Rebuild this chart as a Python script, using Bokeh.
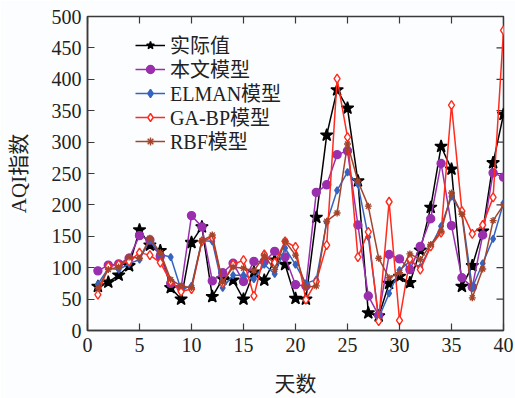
import math
from bokeh.plotting import figure
from bokeh.models import Range1d, FixedTicker, Legend, LegendItem
from bokeh.embed import file_html
from bokeh.resources import INLINE

days = list(range(1, 41))
actual = [70, 77, 88, 103, 160, 136, 127, 68, 50, 140, 165, 54, 82, 80, 50, 93, 80, 112, 105, 51,
          50, 180, 311, 383, 354, 238, 28, 23, 75, 86, 76, 128, 196, 293, 257, 70, 103, 158, 267, 344]
ours = [95, 104, 106, 115, 151, 144, 118, 75, 68, 183, 165, 79, 92, 107, 78, 110, 110, 126, 117, 73,
        71, 220, 232, 280, 286, 168, 55, 24, 121, 114, 97, 134, 178, 266, 167, 84, 69, 152, 251, 244]
elman = [74, 99, 97, 106, 113, 144, 121, 117, 65, 71, 143, 142, 68, 88, 88, 82, 105, 90, 131, 105,
         75, 81, 172, 223, 252, 233, 149, 20, 59, 96, 110, 101, 134, 166, 213, 187, 68, 107, 146, 203]
gabp = [57, 102, 105, 110, 124, 120, 108, 78, 62, 66, 142, 148, 75, 105, 112, 55, 121, 108, 142, 133,
        49, 78, 136, 401, 308, 117, 157, 15, 205, 16, 114, 97, 134, 156, 359, 190, 154, 168, 212, 478]
rbf = [68, 97, 101, 117, 115, 147, 124, 81, 71, 68, 143, 152, 77, 101, 99, 95, 119, 97, 142, 120,
       69, 71, 174, 187, 297, 238, 198, 115, 84, 92, 122, 113, 137, 158, 219, 185, 52, 98, 175, 200]

series_names = ["实际值", "本文模型", "ELMAN模型", "GA-BP模型", "RBF模型"]
x_ticks = [0, 5, 10, 15, 20, 25, 30, 35, 40]
y_ticks = [0, 50, 100, 150, 200, 250, 300, 350, 400, 450, 500]
x_max, y_max = 40, 500

FONT = "Liberation Serif, Noto Sans CJK SC"
BG = "#fcfdff"
AX = "#3a3a3a"

p = figure(width=515, height=398, output_backend="svg", toolbar_location=None,
           x_range=Range1d(0, x_max), y_range=Range1d(0, y_max),
           min_border_left=87, min_border_right=12, min_border_top=16, min_border_bottom=67,
           x_axis_label="天数", y_axis_label="AQI指数")
p.background_fill_color = BG
p.border_fill_color = BG
p.grid.visible = False
p.outline_line_color = AX
p.outline_line_width = 1.5

for ax, ticks in ((p.xaxis[0], x_ticks), (p.yaxis[0], y_ticks)):
    ax.ticker = FixedTicker(ticks=ticks)
    ax.major_tick_in = 7
    ax.major_tick_out = 0
    ax.minor_tick_line_color = None
    ax.axis_line_color = AX
    ax.axis_line_width = 1.5
    ax.major_tick_line_color = AX
    ax.major_tick_line_width = 1.2
    ax.major_label_text_font = FONT
    ax.major_label_text_font_size = "20px"
    ax.major_label_text_color = "#222222"
    ax.axis_label_text_font = FONT
    ax.axis_label_text_font_size = "21px"
    ax.axis_label_text_font_style = "normal"
    ax.axis_label_text_color = "#222222"
p.xaxis[0].major_label_standoff = 7
p.xaxis[0].axis_label_standoff = 17
p.yaxis[0].major_label_standoff = 6
p.yaxis[0].axis_label_standoff = 18

# inward tick marks on the top and right edges of the box
p.scatter(x_ticks, [y_max] * len(x_ticks), marker="dash", angle=math.pi / 2, size=14,
          line_color=AX, line_width=1.2)
p.scatter([x_max] * len(y_ticks), y_ticks, marker="dash", size=14,
          line_color=AX, line_width=1.2)

styles = [
    (actual, "#000000", "star", 13, "#000000"),
    (ours, "#9a2fae", "circle", 8, "#9a2fae"),
    (elman, "#3563c0", "diamond", 7, "#3563c0"),
    (gabp, "#ff2b1c", "diamond", 9, "white"),
    (rbf, "#a3442b", "asterisk", 7, "#a3442b"),
]

# one single-row legend per series so that the row pitch matches the original
row_pitch = 24
first_row_bottom = 271
for i, (name, (vals, color, marker, size, fill)) in enumerate(zip(series_names, styles)):
    ln = p.line(days, vals, line_color=color, line_width=1.5)
    sc = p.scatter(days, vals, marker=marker, size=size, line_color=color,
                   fill_color=fill, line_width=1.4)
    lg = Legend(items=[LegendItem(label=name, renderers=[ln, sc])],
                location=(48, first_row_bottom - i * row_pitch))
    lg.background_fill_alpha = 0
    lg.border_line_color = None
    lg.label_text_font = FONT
    lg.label_text_font_size = "20px"
    lg.label_text_color = "#222222"
    lg.glyph_width = 30
    lg.glyph_height = 20
    lg.label_height = 20
    lg.padding = 0
    lg.margin = 0
    lg.label_standoff = 5
    p.add_layout(lg, "center")

open("out.html", "w").write(file_html(p, INLINE))
